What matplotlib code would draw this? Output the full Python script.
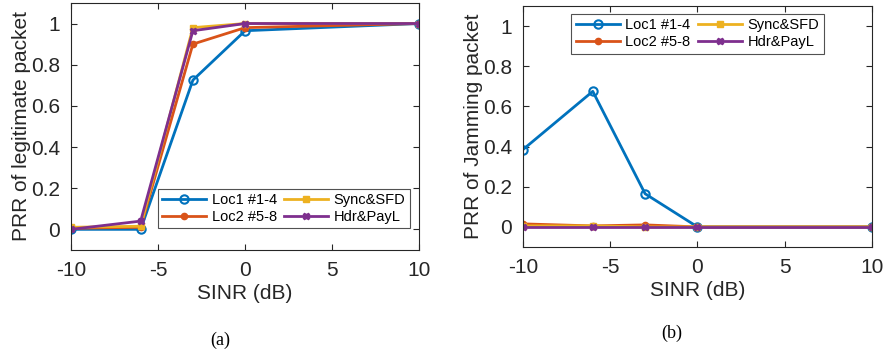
import matplotlib
matplotlib.use("Agg")
import matplotlib.pyplot as plt

plt.rcParams['font.family'] = ['Liberation Sans', 'DejaVu Sans']
plt.rcParams['axes.unicode_minus'] = False

sinr = [-10, -6, -3, 0, 10]
labels = ["Loc1 #1-4", "Loc2 #5-8", "Sync&SFD", "Hdr&PayL"]

# (a) legitimate packet
legit_loc1 = [0.0, 0.0, 0.725, 0.965, 1.0]
legit_loc2 = [0.005, 0.01, 0.90, 0.98, 1.0]
legit_sync = [0.01, 0.015, 0.98, 1.0, 1.0]
legit_hdr = [0.0, 0.04, 0.965, 1.0, 1.0]

# (b) jamming packet
jam_loc1 = [0.385, 0.675, 0.165, 0.0, 0.0]
jam_loc2 = [0.015, 0.005, 0.01, 0.0, 0.0]
jam_sync = [0.005, 0.005, 0.0, 0.0, 0.0]
jam_hdr = [0.0, 0.0, 0.0, 0.0, 0.0]

colors = ["#0072BD", "#D95319", "#EDB120", "#7E2F8E"]
styles = [dict(marker="o", mfc="none", ms=6, mew=1.5),
          dict(marker="o", ms=4.5),
          dict(marker="s", ms=5),
          dict(marker="X", ms=4.5)]

fig = plt.figure(figsize=(8.84, 3.54), dpi=100)
ax1 = fig.add_axes([0.0803, 0.294, 0.394, 0.6977])
ax2 = fig.add_axes([0.5916, 0.3023, 0.3948, 0.6808])


def draw(ax, series, ylabel):
    for ys, c, st, lab in zip(series, colors, styles, labels):
        ax.plot(sinr, ys, color=c, lw=2, label=lab, **st)
    ax.set_xlim(-10, 10)
    ax.set_ylim(-0.1, 1.1)
    ax.set_xticks([-10, -5, 0, 5, 10])
    ax.set_yticks([0, 0.2, 0.4, 0.6, 0.8, 1])
    ax.set_yticklabels(["0", "0.2", "0.4", "0.6", "0.8", "1"])
    ax.tick_params(direction="in", top=True, right=True, labelsize=15,
                   colors="#262626", length=4, pad=8)
    for s in ax.spines.values():
        s.set_color("#262626")
        s.set_linewidth(0.8)
    ax.set_xlabel("SINR (dB)", fontsize=15, color="#262626", labelpad=3)
    ax.set_ylabel(ylabel, fontsize=15, color="#262626", labelpad=0)


draw(ax1, [legit_loc1, legit_loc2, legit_sync, legit_hdr], "PRR of legitimate packet")
draw(ax2, [jam_loc1, jam_loc2, jam_sync, jam_hdr], "PRR of Jamming packet")

leg_kw = dict(ncol=2, fontsize=10.5, fancybox=False, edgecolor="#262626",
              handlelength=3.0, columnspacing=0.5, handletextpad=0.4,
              borderpad=0.3, labelspacing=0.2, borderaxespad=0.3)
l1 = ax1.legend(loc="lower right", bbox_to_anchor=(0.985, 0.07), **leg_kw)
l2 = ax2.legend(loc="upper center", bbox_to_anchor=(0.5, 0.985), **leg_kw)
for l in (l1, l2):
    l.get_frame().set_linewidth(0.8)

fig.text(220 / 884, 1 - 340 / 354, "(a)", family="Liberation Serif", fontsize=13,
         ha="center", va="center")
fig.text(672 / 884, 1 - 333 / 354, "(b)", family="Liberation Serif", fontsize=13,
         ha="center", va="center")

fig.savefig("out.png", dpi=100)
